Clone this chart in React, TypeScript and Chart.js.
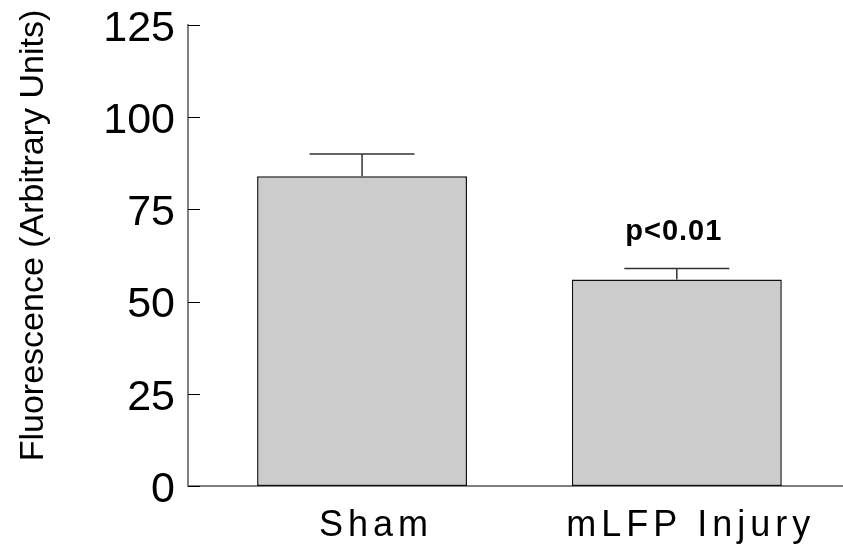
import React, { useEffect, useRef } from 'react';
import { Chart, registerables } from 'chart.js';

Chart.register(...registerables);

const categories = ['Sham', 'mLFP Injury'];
const xPositions = [1, 2];
const meanValues = [84, 56];
const errorValues = [6, 3];
const yTickValues = [0, 25, 50, 75, 100, 125];
const significance = ['', 'p<0.01'];
const yAxisTitle = 'Fluorescence (Arbitrary Units)';

const FONT = '"Liberation Sans", Arial, Helvetica, sans-serif';

const spacing: Record<string, { labels: string }> = {
  x: { labels: '5px' },
  y: { labels: '0px' },
};

const letterSpacingPlugin = {
  id: 'letterSpacingPlugin',
  beforeDraw(chart: any) {
    Object.values(chart.scales).forEach((scale: any) => {
      if (scale.__spaced) return;
      scale.__spaced = true;
      const cfg = spacing[scale.id] || { labels: '0px' };
      const origLabels = scale.drawLabels.bind(scale);
      scale.drawLabels = (area: any) => {
        const ctx = scale.ctx;
        ctx.save();
        ctx.letterSpacing = cfg.labels;
        origLabels(area);
        ctx.restore();
      };
    });
  },
};

const decorPlugin = {
  id: 'decorPlugin',
  afterDatasetsDraw(chart: any) {
    const ctx = chart.ctx;
    const y = chart.scales.y;
    const area = chart.chartArea;
    // inward y ticks
    ctx.save();
    ctx.strokeStyle = '#000';
    ctx.lineWidth = 1;
    ctx.beginPath();
    y.ticks.forEach((_t: any, i: number) => {
      const py = Math.round(y.getPixelForTick(i)) + 0.5;
      ctx.moveTo(area.left, py);
      ctx.lineTo(area.left + 12, py);
    });
    ctx.stroke();
    ctx.restore();

    // y axis title
    ctx.save();
    ctx.translate(34, (area.top + area.bottom) / 2 - 20);
    ctx.rotate(-Math.PI / 2);
    ctx.font = `34px ${FONT}`;
    ctx.fillStyle = '#000';
    ctx.textAlign = 'center';
    ctx.textBaseline = 'middle';
    ctx.fillText(yAxisTitle, 0, 0);
    ctx.restore();

    // error bars + significance
    const meta = chart.getDatasetMeta(0);
    meta.data.forEach((bar: any, i: number) => {
      const top = y.getPixelForValue(meanValues[i] + errorValues[i]);
      const half = bar.width / 4;
      ctx.save();
      ctx.strokeStyle = '#333';
      ctx.lineWidth = 1.5;
      ctx.beginPath();
      ctx.moveTo(bar.x, bar.y);
      ctx.lineTo(bar.x, top);
      ctx.moveTo(bar.x - half, top);
      ctx.lineTo(bar.x + half, top);
      ctx.stroke();
      if (significance[i]) {
        ctx.fillStyle = '#000';
        ctx.font = `bold 29px ${FONT}`;
        ctx.letterSpacing = '1px';
        ctx.textAlign = 'center';
        ctx.textBaseline = 'alphabetic';
        ctx.fillText(significance[i], bar.x - 3, top - 28);
      }
      ctx.restore();
    });
  },
};

export default function App() {
  const ref = useRef<HTMLCanvasElement>(null);
  useEffect(() => {
    if (!ref.current) return;
    Chart.defaults.font.family = FONT;
    const chart = new Chart(ref.current, {
      type: 'bar',
      data: {
        datasets: [
          {
            data: xPositions.map((x, i) => ({ x, y: meanValues[i] })),
            backgroundColor: '#cccccc',
            borderColor: '#111111',
            borderWidth: 1.5,
            borderSkipped: false,
            barPercentage: 0.667,
            categoryPercentage: 1,
          },
        ],
      },
      options: {
        animation: false,
        responsive: false,
        events: [],
        layout: { padding: { top: 25, left: 0, right: 0, bottom: 0 } },
        plugins: {
          legend: { display: false },
          tooltip: { enabled: false },
        },
        scales: {
          x: {
            type: 'linear',
            min: 0.447,
            max: 2.528,
            offset: false,
            bounds: 'data',
            afterBuildTicks: (s: any) => {
              s.ticks = xPositions.map((v) => ({ value: v }));
            },
            afterFit: (s: any) => {
              s.height = 68;
              s.paddingLeft = 0;
              s.paddingRight = 0;
            },
            ticks: {
              callback: (_v: any, i: number) => categories[i],
              font: { size: 36 },
              color: '#000',
              padding: 18,
              labelOffset: 14,
              maxRotation: 0,
              autoSkip: false,
            },
            grid: { display: false, drawTicks: false },
            border: { display: true, color: '#808080', width: 2 },
          },
          y: {
            min: 0,
            max: 125,
            afterBuildTicks: (s: any) => {
              s.ticks = yTickValues.map((v) => ({ value: v }));
            },
            afterFit: (s: any) => {
              s.width = 188;
              s.paddingTop = 0;
              s.paddingBottom = 0;
            },
            ticks: {
              font: { size: 43 },
              color: '#000',
              padding: 13,
              labelOffset: 4,
            },
            grid: { display: false, drawTicks: false },
            border: { display: true, color: '#808080', width: 2 },
          },
        },
      },
      plugins: [letterSpacingPlugin, decorPlugin],
    });
    return () => chart.destroy();
  }, []);
  return (
    <div style={{ position: 'absolute', left: 0, top: 0, width: 843, height: 554, background: '#fff' }}>
      <canvas ref={ref} width={843} height={554} />
    </div>
  );
}
